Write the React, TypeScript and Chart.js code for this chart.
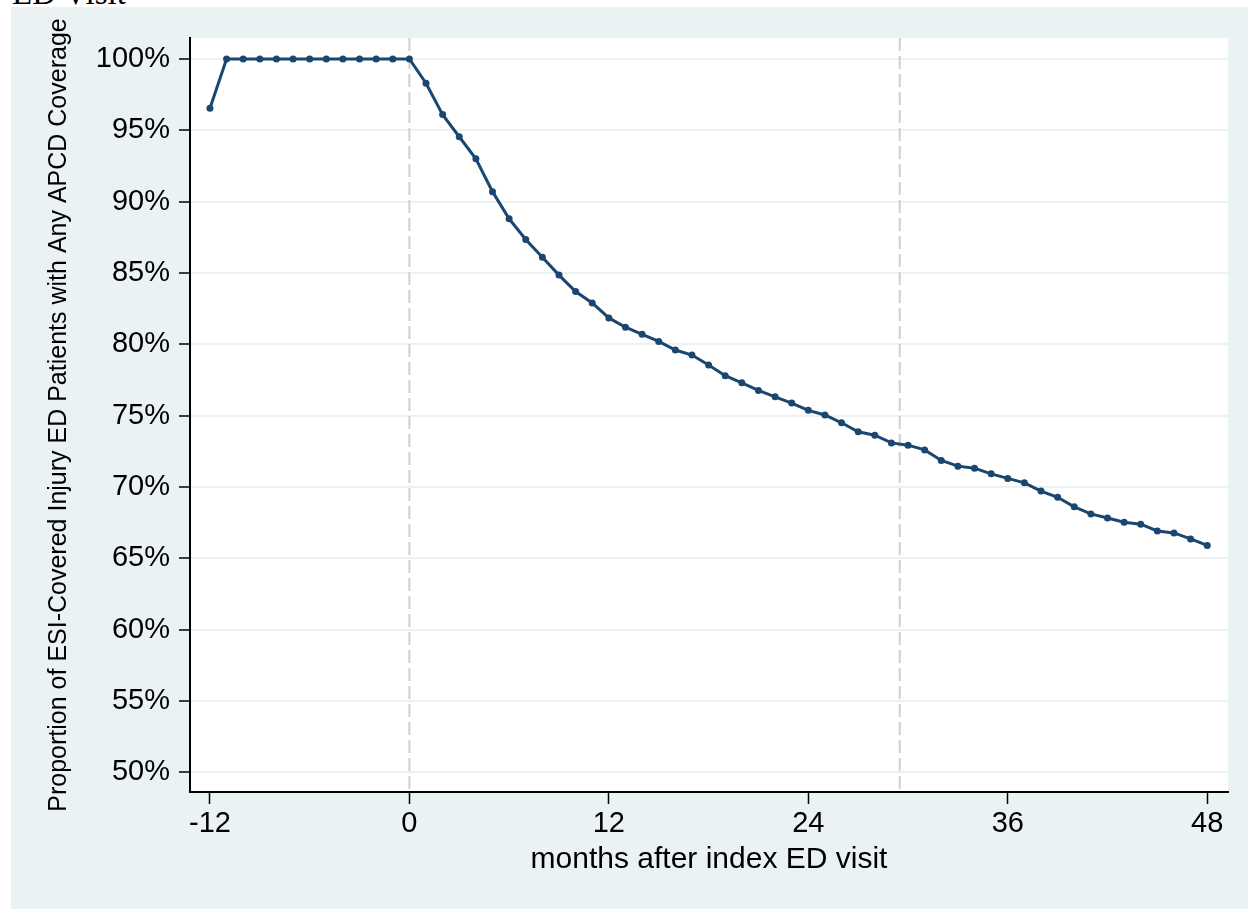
import React, { useEffect, useRef } from "react";
import { Chart, registerables } from "chart.js";

Chart.register(...registerables);

const months = [
  -12, -11, -10, -9, -8, -7, -6, -5, -4, -3, -2, -1, 0,
  1, 2, 3, 4, 5, 6, 7, 8, 9, 10, 11, 12,
  13, 14, 15, 16, 17, 18, 19, 20, 21, 22, 23, 24,
  25, 26, 27, 28, 29, 30, 31, 32, 33, 34, 35, 36,
  37, 38, 39, 40, 41, 42, 43, 44, 45, 46, 47, 48,
];

const coverage = [
  96.55, 100, 100, 100, 100, 100, 100, 100, 100, 100, 100, 100, 100,
  98.3, 96.1, 94.55, 93.0, 90.7, 88.8, 87.35, 86.1, 84.85, 83.7, 82.9, 81.85,
  81.2, 80.7, 80.2, 79.6, 79.25, 78.55, 77.8, 77.3, 76.77, 76.32, 75.88, 75.37,
  75.05, 74.5, 73.87, 73.63, 73.09, 72.93, 72.6, 71.86, 71.46, 71.32, 70.92, 70.6,
  70.29, 69.71, 69.28, 68.61, 68.11, 67.83, 67.53, 67.39, 66.92, 66.78, 66.36, 65.9,
];

const xTicks = [-12, 0, 12, 24, 36, 48];
const yTicks = [50, 55, 60, 65, 70, 75, 80, 85, 90, 95, 100];
const refLines = [0, 29.5];

const FONT = "'Liberation Sans', Arial, Helvetica, sans-serif";
const NAVY = "#1a476f";
const BG = "#eaf2f3";

const plotBgPlugin = {
  id: "plotBg",
  beforeDraw(chart: any) {
    const { ctx, chartArea } = chart;
    ctx.save();
    ctx.fillStyle = "#ffffff";
    ctx.fillRect(chartArea.left, chartArea.top, chartArea.right - chartArea.left, chartArea.bottom - chartArea.top);
    ctx.restore();
  },
};

const refLinePlugin = {
  id: "refLines",
  beforeDatasetsDraw(chart: any) {
    const { ctx, chartArea, scales } = chart;
    ctx.save();
    ctx.strokeStyle = "#cfcfcf";
    ctx.lineWidth = 2;
    ctx.setLineDash([13, 5]);
    refLines.forEach((v) => {
      const x = scales.x.getPixelForValue(v);
      ctx.beginPath();
      ctx.moveTo(x, chartArea.top);
      ctx.lineTo(x, chartArea.bottom);
      ctx.stroke();
    });
    ctx.restore();
  },
};

export default function App() {
  const ref = useRef<HTMLCanvasElement | null>(null);

  useEffect(() => {
    if (!ref.current) return;
    const chart = new Chart(ref.current, {
      type: "line",
      data: {
        datasets: [
          {
            data: months.map((m, i) => ({ x: m, y: coverage[i] })),
            borderColor: NAVY,
            backgroundColor: NAVY,
            borderWidth: 3,
            pointRadius: 3.5,
            pointBorderWidth: 0,
            pointBackgroundColor: NAVY,
            tension: 0,
            fill: false,
          },
        ],
      },
      plugins: [plotBgPlugin, refLinePlugin],
      options: {
        animation: false,
        responsive: false,
        devicePixelRatio: 1,
        layout: { padding: { top: 31, right: 20, left: 0, bottom: 0 } },
        plugins: {
          legend: { display: false },
          tooltip: { enabled: false },
          title: { display: false },
        },
        scales: {
          x: {
            type: "linear",
            min: -13.2,
            max: 49.25,
            afterBuildTicks: (scale: any) => {
              scale.ticks = xTicks.map((v) => ({ value: v }));
            },
            afterFit: (scale: any) => {
              scale.height = 117;
            },
            grid: {
              display: true,
              drawOnChartArea: false,
              drawTicks: true,
              tickLength: 12,
              tickColor: "#000000",
              tickWidth: 1.5,
            },
            border: { display: true, color: "#000000", width: 2 },
            ticks: {
              color: "#000000",
              padding: 3,
              maxRotation: 0,
              autoSkip: false,
              font: { family: FONT, size: 29 },
              callback: (v: any) => String(v),
            },
            title: {
              display: true,
              text: "months after index ED visit",
              color: "#000000",
              font: { family: FONT, size: 30 },
              padding: { top: 0, bottom: 31 },
            },
          },
          y: {
            type: "linear",
            min: 48.62,
            max: 101.47,
            afterBuildTicks: (scale: any) => {
              scale.ticks = yTicks.map((v) => ({ value: v }));
            },
            afterFit: (scale: any) => {
              scale.width = 179;
            },
            grid: {
              display: true,
              color: BG,
              lineWidth: 2,
              drawTicks: true,
              tickLength: 11,
              tickColor: "#000000",
              tickWidth: 1.5,
            },
            border: { display: true, color: "#000000", width: 2 },
            ticks: {
              color: "#000000",
              padding: 9,
              autoSkip: false,
              font: { family: FONT, size: 29 },
              callback: (v: any) => `${v}%`,
            },
            title: {
              display: true,
              text: "Proportion of ESI-Covered Injury ED Patients with Any APCD Coverage",
              color: "#000000",
              font: { family: FONT, size: 25 },
              padding: { top: 33, bottom: 0 },
            },
          },
        },
      },
    } as any);
    return () => chart.destroy();
  }, []);

  return (
    <div style={{ position: "absolute", left: 0, top: 0, width: 1248, height: 909, overflow: "hidden", background: "#ffffff" }}>
      <div
        style={{
          position: "absolute",
          left: 12,
          top: -23,
          fontFamily: "'Liberation Serif', 'Times New Roman', serif",
          fontSize: 33,
          lineHeight: "33px",
          color: "#000000",
          whiteSpace: "nowrap",
        }}
      >
        ED Visit
      </div>
      <canvas
        ref={ref}
        width={1237}
        height={902}
        style={{ position: "absolute", left: 11, top: 7, width: 1237, height: 902, background: BG }}
      />
    </div>
  );
}
